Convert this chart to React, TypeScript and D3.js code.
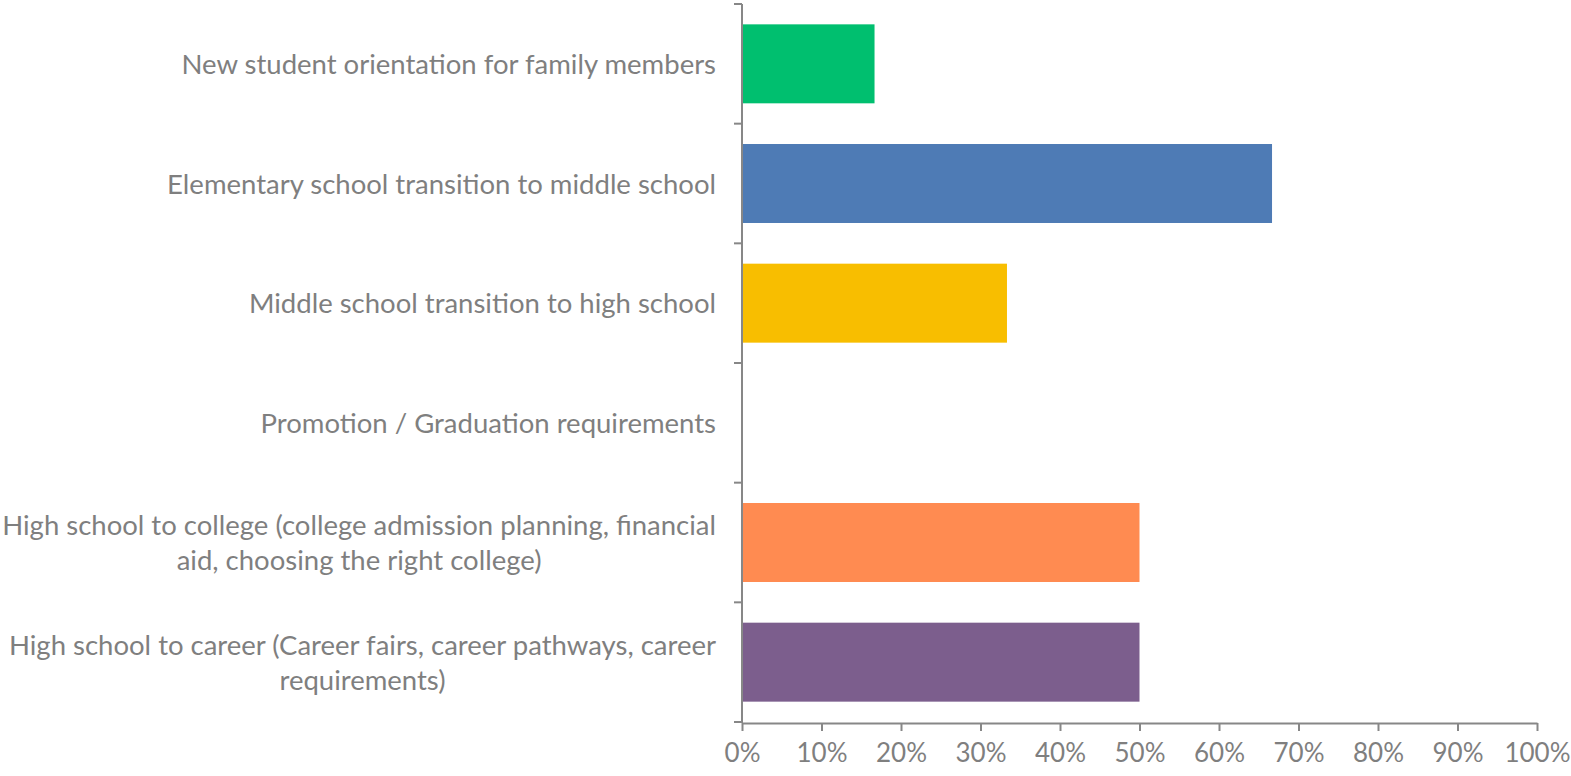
import React, { useEffect, useRef } from "react";
import * as d3 from "d3";

// Share of respondents per transition topic
const CATEGORIES = [
  ["New student orientation for family members"],
  ["Elementary school transition to middle school"],
  ["Middle school transition to high school"],
  ["Promotion / Graduation requirements"],
  ["High school to college (college admission planning, financial", "aid, choosing the right college)"],
  ["High school to career (Career fairs, career pathways, career", "requirements)"],
];
const VALUES = [0.1667, 0.6667, 0.3333, 0, 0.5, 0.5];
const COLORS = ["#00BF6F", "#4E7BB5", "#F8BE00", "#FF8B51", "#FF8B51", "#7C5E8D"];
const X_TICKS = [0, 0.1, 0.2, 0.3, 0.4, 0.5, 0.6, 0.7, 0.8, 0.9, 1];

export default function App() {
  const svgRef = useRef<SVGSVGElement>(null);

  useEffect(() => {
    const width = 1571;
    const height = 776;
    const axisColor = "#878787";
    const textColor = "#7F7F7F";
    const font = "Lato, 'Open Sans', sans-serif";

    const svg = d3.select(svgRef.current)
      .attr("width", width)
      .attr("height", height)
      .attr("viewBox", `0 0 ${width} ${height}`);
    svg.selectAll("*").remove();

    const keys = CATEGORIES.map((_, i) => String(i));
    const y = d3.scaleBand<string>().domain(keys).range([4, 722]).paddingInner(0.34).paddingOuter(0.17);
    const x = d3.scaleLinear().domain([0, 1]).range([742, 1537]);

    // Bars
    svg.selectAll(".bar")
      .data(VALUES)
      .join("rect")
      .attr("x", x(0))
      .attr("y", (_, i) => y(String(i))!)
      .attr("width", d => x(d) - x(0))
      .attr("height", y.bandwidth())
      .attr("fill", (_, i) => COLORS[i]);

    // Y axis line and band boundary ticks
    const step = y.step();
    const bounds = d3.range(CATEGORIES.length + 1).map(i => 4 + i * step);
    svg.append("line")
      .attr("x1", x(0)).attr("x2", x(0))
      .attr("y1", 4).attr("y2", 723)
      .attr("stroke", axisColor).attr("stroke-width", 2);
    svg.selectAll(".ytick")
      .data(bounds)
      .join("line")
      .attr("x1", x(0) - 8).attr("x2", x(0))
      .attr("y1", d => d).attr("y2", d => d)
      .attr("stroke", axisColor).attr("stroke-width", 2);

    // X axis
    const xAxis = svg.append("g")
      .attr("transform", "translate(0,723)")
      .call(d3.axisBottom(x).tickValues(X_TICKS).tickSize(8).tickSizeOuter(0).tickPadding(13)
        .tickFormat(d => `${Math.round(+d * 100)}%`));
    xAxis.select(".domain").attr("stroke", axisColor).attr("stroke-width", 2);
    xAxis.selectAll(".tick line").attr("stroke", axisColor).attr("stroke-width", 2);
    xAxis.selectAll(".tick text")
      .attr("fill", textColor)
      .style("font-family", font)
      .style("font-size", "26px");

    // Category labels
    const lineH = 35;
    CATEGORIES.forEach((lines, i) => {
      const cy = y(String(i))! + y.bandwidth() / 2;
      const t = svg.append("text")
        .attr("fill", textColor)
        .style("font-family", font)
        .style("font-size", "27.5px");
      const first = cy + 10 - ((lines.length - 1) * lineH) / 2;
      lines.forEach((s, j) => {
        t.append("tspan").attr("y", first + j * lineH).text(s);
      });
      // right-align the block, centre lines inside it
      const spans = t.selectAll<SVGTSpanElement, unknown>("tspan").nodes();
      const widths = spans.map(n => n.getComputedTextLength());
      const maxW = d3.max(widths) || 0;
      const center = 716 - maxW / 2;
      spans.forEach(n => {
        d3.select(n).attr("x", center).attr("text-anchor", "middle");
      });
    });
  }, []);

  return (
    <svg ref={svgRef} style={{ position: "absolute", left: 0, top: 0, background: "#fff" }} />
  );
}
